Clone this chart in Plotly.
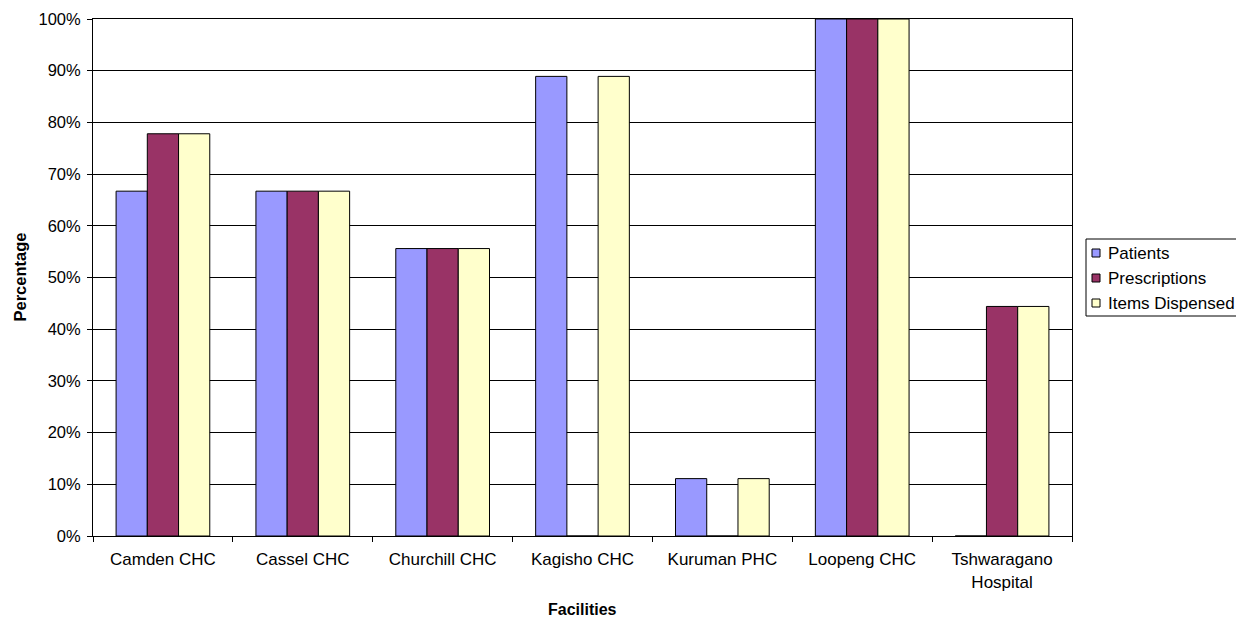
import plotly.graph_objects as go

facilities = ["Camden CHC", "Cassel CHC", "Churchill CHC", "Kagisho CHC",
              "Kuruman PHC", "Loopeng CHC", "Tshwaragano<br>Hospital"]
patients = [0.667, 0.667, 0.556, 0.889, 0.111, 1.0, 0.0]
prescriptions = [0.778, 0.667, 0.556, 0.0, 0.0, 1.0, 0.444]
items_dispensed = [0.778, 0.667, 0.556, 0.889, 0.111, 1.0, 0.444]

series = [
    ("Patients", patients, "#9999FF"),
    ("Prescriptions", prescriptions, "#993366"),
    ("Items Dispensed", items_dispensed, "#FFFFCC"),
]

W, H = 1236, 619
ML, MR, MT, MB = 93, 164, 19, 83
PW, PH = W - ML - MR, H - MT - MB


def px_x(px):
    return (px - ML) / PW


def px_y(py):
    return (H - MB - py) / PH


font_family = "Liberation Sans, Arial, sans-serif"

fig = go.Figure()
for name, vals, color in series:
    fig.add_trace(go.Bar(
        x=facilities, y=vals, name=name, showlegend=False,
        marker=dict(color=color, line=dict(color="black", width=1)),
    ))

# Legend box drawn by hand so it can run off the right edge of the page
shapes = [dict(type="rect", xref="paper", yref="paper",
               x0=px_x(1086), x1=px_x(1250), y0=px_y(316), y1=px_y(239),
               line=dict(color="black", width=1), fillcolor="white")]
annotations = []
for i, (name, _, color) in enumerate(series):
    cy = 253 + 25 * i
    shapes.append(dict(type="rect", xref="paper", yref="paper",
                       x0=px_x(1092), x1=px_x(1100), y0=px_y(cy + 4), y1=px_y(cy - 4),
                       line=dict(color="black", width=1), fillcolor=color))
    annotations.append(dict(xref="paper", yref="paper", x=px_x(1106), y=px_y(cy),
                            xanchor="left", yanchor="middle", showarrow=False,
                            text=name, font=dict(size=17, color="black")))

# Axis titles
annotations.append(dict(xref="paper", yref="paper", x=0.5, y=px_y(609),
                        xanchor="center", yanchor="middle", showarrow=False,
                        text="<b>Facilities</b>", font=dict(size=16, color="black")))
annotations.append(dict(xref="paper", yref="paper", x=px_x(19), y=0.5,
                        xanchor="center", yanchor="middle", showarrow=False, textangle=-90,
                        text="<b>Percentage</b>", font=dict(size=16.5, color="black")))

fig.update_layout(
    width=W, height=H,
    margin=dict(l=ML, r=MR, t=MT, b=MB),
    paper_bgcolor="white", plot_bgcolor="white",
    barmode="group", bargap=0.33, bargroupgap=0,
    font=dict(family=font_family, size=17, color="black"),
    showlegend=False,
    shapes=shapes,
    annotations=annotations,
    xaxis=dict(
        showline=True, linecolor="black", linewidth=1, mirror=True,
        ticks="outside", ticklen=5, tickcolor="black",
        tickson="boundaries", automargin=False,
        ticklabelstandoff=8,
        tickfont=dict(size=17),
    ),
    yaxis=dict(
        range=[0, 1.0], tickformat=".0%", dtick=0.1,
        showline=True, linecolor="black", linewidth=1, mirror=True,
        ticks="outside", ticklen=5, tickcolor="black",
        showgrid=True, gridcolor="black", gridwidth=1,
        tickfont=dict(size=16.5), automargin=False,
        ticklabelstandoff=3,
        zeroline=False,
    ),
)

fig.write_html("out.html")
